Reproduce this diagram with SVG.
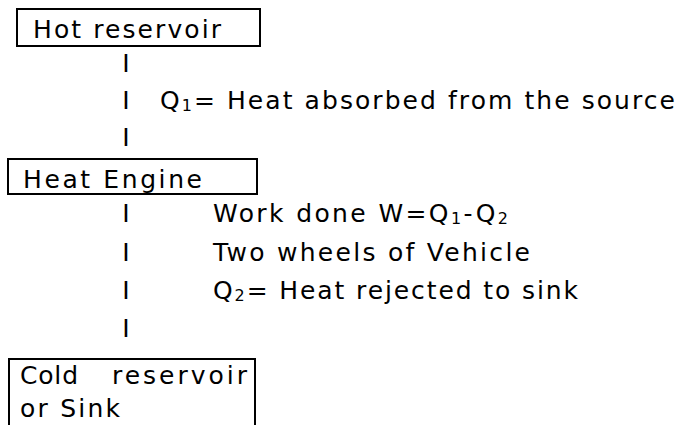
<svg xmlns="http://www.w3.org/2000/svg" width="679" height="425" viewBox="0 0 679 425">
<style>
.box{fill:#fff;stroke:#000;stroke-width:2}
text{font-family:"DejaVu Sans","Liberation Sans",Arial,sans-serif;font-size:25px;fill:#000}
.bar{text-anchor:middle}
.sub{font-size:16px}
</style>
<rect width="679" height="425" fill="#fff"/>
<g id="hot-reservoir">
<rect class="box" x="17" y="9" width="243" height="37"/>
<text x="33" y="38" textLength="188" lengthAdjust="spacing">Hot reservoir</text>
</g>
<g id="heat-engine">
<rect class="box" x="8" y="159" width="249" height="35"/>
<text x="23" y="188" textLength="179" lengthAdjust="spacing">Heat Engine</text>
</g>
<g id="cold-reservoir">
<rect class="box" x="9" y="359" width="246" height="80"/>
<text x="20" y="384" textLength="58" lengthAdjust="spacing">Cold</text>
<text x="112" y="384" textLength="135" lengthAdjust="spacing">reservoir</text>
<text x="20" y="417" textLength="100" lengthAdjust="spacing">or Sink</text>
</g>
<g id="connectors">
<text class="bar" x="126" y="72">I</text>
<text class="bar" x="126" y="109">I</text>
<text class="bar" x="126" y="146">I</text>
<text class="bar" x="126" y="222">I</text>
<text class="bar" x="126" y="261">I</text>
<text class="bar" x="126" y="299">I</text>
<text class="bar" x="126" y="337">I</text>
</g>
<g id="labels">
<text x="160" y="109" textLength="515" lengthAdjust="spacing">Q<tspan class="sub" dy="2">1</tspan><tspan dy="-2">= Heat absorbed from the source</tspan></text>
<text x="213" y="222" textLength="295" lengthAdjust="spacing">Work done W=Q<tspan class="sub" dy="2">1</tspan><tspan dy="-2">-Q</tspan><tspan class="sub" dy="2">2</tspan></text>
<text x="213" y="261" textLength="317" lengthAdjust="spacing">Two wheels of Vehicle</text>
<text x="213" y="299" textLength="365" lengthAdjust="spacing">Q<tspan class="sub" dy="2">2</tspan><tspan dy="-2">= Heat rejected to sink</tspan></text>
</g>
</svg>
